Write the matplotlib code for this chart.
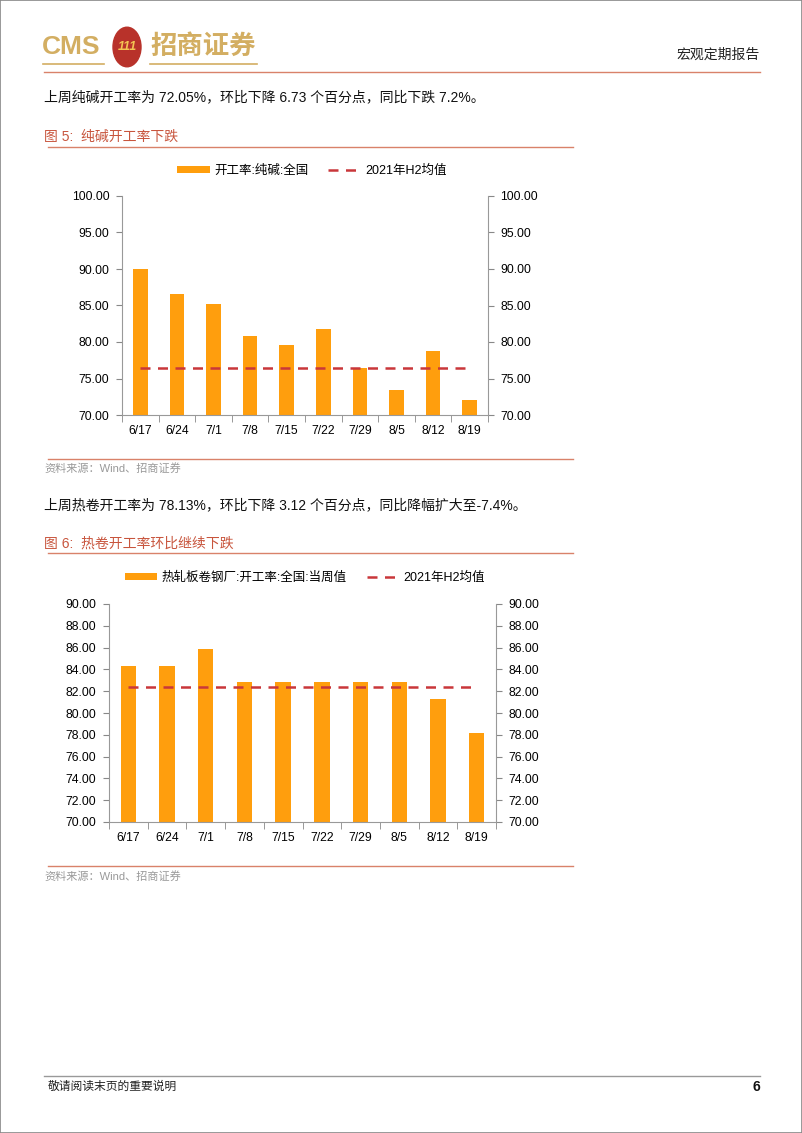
#!/usr/bin/env python3
# coding: utf-8
import matplotlib
matplotlib.use('Agg')
import matplotlib.pyplot as plt
from matplotlib.patches import Circle, Rectangle
from matplotlib.lines import Line2D

plt.rcParams['font.family'] = ['Liberation Sans', 'Noto Sans CJK SC', 'DejaVu Sans']

# data
weeks = ['6/17', '6/24', '7/1', '7/8', '7/15', '7/22', '7/29', '8/5', '8/12', '8/19']
soda_rate = [90.0, 86.6, 85.2, 80.8, 79.6, 81.8, 76.5, 73.4, 78.7, 72.05]
soda_h2_mean = 76.5
hrc_rate = [84.35, 84.35, 85.9, 82.8, 82.8, 82.8, 82.8, 82.8, 81.25, 78.13]
hrc_h2_mean = 82.4

BAR = '#FF9E0D'
DASH = '#C9373A'
RED = '#C8553D'
RULE = '#D9826A'
GOLD = '#D3AE62'
W, H = 802, 1133

fig = plt.figure(figsize=(W / 100, H / 100), dpi=100)


def fx(x):
    return x / W


def fy(y):
    return 1 - y / H


def ftext(x, y, s, **kw):
    kw.setdefault('va', 'center')
    fig.text(fx(x), fy(y), s, **kw)


def hline(x0, x1, y, color, lw=1.0):
    fig.add_artist(Line2D([fx(x0), fx(x1)], [fy(y), fy(y)], color=color, lw=lw,
                          transform=fig.transFigure))


# page frame
fig.add_artist(Rectangle((0, 0), 1, 1, fill=False, ec='#888888', lw=1.2,
                         transform=fig.transFigure))

# header
ftext(42, 47, 'CMS', fontsize=19, color=GOLD, fontweight='bold')
fig.add_artist(Circle((fx(127), fy(47)), 14 / W, color='#B8322A', transform=fig.transFigure))
ftext(127, 47, '111', fontsize=9, color='#F3C553', fontweight='bold', ha='center', style='italic')
ftext(150, 46, '招商证券', fontsize=19, color=GOLD, fontweight='bold')
hline(43, 104, 64, GOLD, 1.2)
hline(150, 257, 64, GOLD, 1.2)
ftext(760, 55, '宏观定期报告', fontsize=10, color='#222222', ha='right')
hline(44, 760, 72, RULE, 1.0)

ftext(44, 97, '上周纯碱开工率为 72.05%，环比下降 6.73 个百分点，同比下跌 7.2%。', fontsize=10, color='#111111')
ftext(44, 137, '图 5:  纯碱开工率下跌', fontsize=10, color=RED)
hline(48, 573, 147, RULE, 1.0)

ftext(44, 505, '上周热卷开工率为 78.13%，环比下降 3.12 个百分点，同比降幅扩大至-7.4%。', fontsize=10, color='#111111')
ftext(44, 544, '图 6:  热卷开工率环比继续下跌', fontsize=10, color=RED)
hline(48, 573, 553, RULE, 1.0)


def bar_chart(box, values, mean, ylim, step, bar_label, legend_xy):
    left, top, right, bottom = box
    ax = fig.add_axes([fx(left), fy(bottom), (right - left) / W, (bottom - top) / H])
    x = list(range(len(weeks)))
    bars = ax.bar(x, values, width=0.4, color=BAR, zorder=2)
    line, = ax.plot([x[0], x[-1]], [mean, mean], color=DASH, lw=1.8, dashes=(4, 3), zorder=3)
    ax.set_xlim(-0.5, len(weeks) - 0.5)
    ax.set_ylim(*ylim)
    ticks = [ylim[0] + i * step for i in range(int(round((ylim[1] - ylim[0]) / step)) + 1)]
    ax.set_yticks(ticks)
    ax.set_yticklabels([f'{t:.2f}' for t in ticks])
    ax.set_xticks(x)
    ax.set_xticklabels(weeks)
    ax.set_xticks([i - 0.5 for i in range(len(weeks) + 1)], minor=True)
    ax.tick_params(axis='x', which='major', length=0, pad=7, labelsize=8.7)
    ax.tick_params(axis='x', which='minor', length=5, color='#888888')
    ax.tick_params(axis='y', length=4, color='#888888', labelsize=8.7, pad=5)
    for s in ['top', 'right']:
        ax.spines[s].set_visible(False)
    for s in ['left', 'bottom']:
        ax.spines[s].set_color('#999999')
    ax2 = ax.twinx()
    ax2.set_ylim(*ylim)
    ax2.set_yticks(ticks)
    ax2.set_yticklabels([f'{t:.2f}' for t in ticks])
    ax2.tick_params(axis='y', length=4, color='#888888', labelsize=8.7, pad=5)
    for s in ['top', 'left', 'bottom']:
        ax2.spines[s].set_visible(False)
    ax2.spines['right'].set_color('#999999')
    fig.legend([bars, line], [bar_label, '2021年H2均值'], loc='center',
               bbox_to_anchor=(fx(legend_xy[0]), fy(legend_xy[1])),
               ncol=2, frameon=False, fontsize=9, handlelength=2.6, handleheight=0.5,
               handletextpad=0.35, columnspacing=1.6)
    return ax


bar_chart((122, 196, 488, 415), soda_rate, soda_h2_mean, (70, 100), 5,
          '开工率:纯碱:全国', (312, 171))
bar_chart((109, 604, 496, 822), hrc_rate, hrc_h2_mean, (70, 90), 2,
          '热轧板卷钢厂:开工率:全国:当周值', (305, 578))

hline(48, 573, 459, RULE, 1.0)
ftext(44, 468, '资料来源：Wind、招商证券', fontsize=8, color='#999999')
hline(48, 573, 866, RULE, 1.0)
ftext(44, 876, '资料来源：Wind、招商证券', fontsize=8, color='#999999')

# footer
hline(44, 760, 1076, '#999999', 1.0)
ftext(48, 1087, '敬请阅读末页的重要说明', fontsize=8.5, color='#222222')
ftext(760, 1087, '6', fontsize=10, color='#111111', fontweight='bold', ha='right')

fig.savefig('out.png', dpi=100)
